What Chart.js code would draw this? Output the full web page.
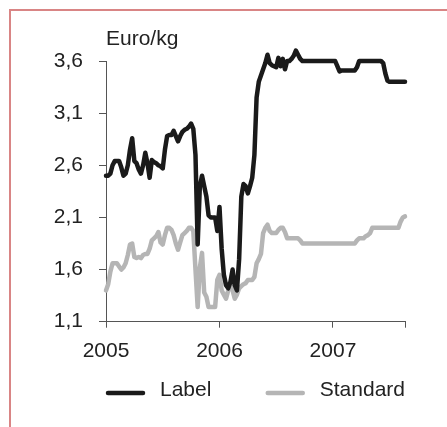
<!DOCTYPE html>
<html>
<head>
<meta charset="utf-8">
<script src="https://cdn.jsdelivr.net/npm/chart.js@4"></script>
<style>
  html, body { margin: 0; padding: 0; background: #fff; }
  #wrap { position: relative; width: 447px; height: 427px; }
  #frame { position: absolute; left: 9px; top: 9px; right: 0; bottom: 0;
           border-top: 2px solid #d98585; border-left: 2px solid #d98585; }
  canvas { position: absolute; left: 0; top: 0; }
</style>
</head>
<body>
<div id="wrap">
  <div id="frame"></div>
  <canvas id="price-chart" width="447" height="427"></canvas>
</div>
<script>
/* Chart data: weekly prices, week 0 = first week of 2005 */
let seriesNames = ['Label', 'Standard']
let unitLabel = 'Euro/kg'

let labelPrices = [
  2.50, 2.50, 2.52, 2.60, 2.64, 2.64, 2.64, 2.58, 2.50, 2.52,
  2.60, 2.75, 2.86, 2.64, 2.62, 2.56, 2.52, 2.60, 2.72, 2.62,
  2.48, 2.65, 2.63, 2.62, 2.60, 2.59, 2.57, 2.75, 2.88, 2.89,
  2.89, 2.93, 2.88, 2.83, 2.88, 2.92, 2.94, 2.95, 2.97, 3.00,
  2.95, 2.70, 1.84, 2.40, 2.50, 2.40, 2.30, 2.12, 2.10, 2.10,
  2.10, 1.97, 2.20, 1.80, 1.55, 1.45, 1.42, 1.48, 1.60, 1.45,
  1.40, 1.70, 2.30, 2.42, 2.40, 2.33, 2.40, 2.48, 2.70, 3.25,
  3.40, 3.46, 3.52, 3.58, 3.66, 3.58, 3.56, 3.55, 3.54, 3.63,
  3.55, 3.62, 3.52, 3.60, 3.60, 3.62, 3.65, 3.70, 3.66, 3.62,
  3.60, 3.60, 3.60, 3.60, 3.60, 3.60, 3.60, 3.60, 3.60, 3.60,
  3.60, 3.60, 3.60, 3.60, 3.60, 3.60, 3.55, 3.50, 3.51, 3.51,
  3.51, 3.51, 3.51, 3.51, 3.51, 3.54, 3.60, 3.60, 3.60, 3.60,
  3.60, 3.60, 3.60, 3.60, 3.60, 3.60, 3.60, 3.58, 3.48, 3.41,
  3.40, 3.40, 3.40, 3.40, 3.40, 3.40, 3.40, 3.40
]

let standardPrices = [
  1.40, 1.46, 1.58, 1.66, 1.66, 1.66, 1.63, 1.60, 1.62, 1.66,
  1.74, 1.84, 1.85, 1.72, 1.71, 1.72, 1.71, 1.74, 1.75, 1.75,
  1.80, 1.88, 1.90, 1.92, 1.96, 1.86, 1.84, 1.93, 2.00, 2.00,
  1.98, 1.93, 1.85, 1.79, 1.86, 1.93, 1.95, 1.97, 2.00, 2.00,
  1.97, 1.60, 1.24, 1.62, 1.76, 1.38, 1.34, 1.24, 1.24, 1.24,
  1.24, 1.50, 1.55, 1.40, 1.36, 1.32, 1.40, 1.47, 1.40, 1.32,
  1.36, 1.42, 1.44, 1.46, 1.47, 1.50, 1.50, 1.50, 1.53, 1.66,
  1.70, 1.75, 1.95, 2.00, 2.03, 1.97, 1.95, 1.95, 1.95, 1.98,
  2.00, 2.00, 1.96, 1.90, 1.90, 1.90, 1.90, 1.90, 1.90, 1.88,
  1.85, 1.85, 1.85, 1.85, 1.85, 1.85, 1.85, 1.85, 1.85, 1.85,
  1.85, 1.85, 1.85, 1.85, 1.85, 1.85, 1.85, 1.85, 1.85, 1.85,
  1.85, 1.85, 1.85, 1.85, 1.85, 1.88, 1.90, 1.90, 1.90, 1.92,
  1.93, 1.95, 2.00, 2.00, 2.00, 2.00, 2.00, 2.00, 2.00, 2.00,
  2.00, 2.00, 2.00, 2.00, 2.00, 2.06, 2.10, 2.11
]

// x axis ticks (in weeks) and their year labels, the last tick closes the axis
let xTickWeeks = [0, 52, 104, 137]
let yearLabels = ['2005', '2006', '2007', '']

// y axis ticks
let yTicks = [1.1, 1.6, 2.1, 2.6, 3.1, 3.6]

let seriesColors = ['#1a1a1a', '#b5b5b5']
let textColor = '#222'
let axisColor = '#555'
let fontFamily = '"Liberation Sans", Arial, sans-serif'
let fontSize = 21

function toPoints(values) {
    return values.map(function (v, i) { return { x: i, y: v } })
}

// draws the unit label above the y axis and the legend below the chart
let extraText = {
    id: 'extraText',
    afterDraw(chart) {
        let ctx = chart.ctx
        let area = chart.chartArea
        ctx.save()
        ctx.font = fontSize + 'px ' + fontFamily
        ctx.fillStyle = textColor
        ctx.textBaseline = 'alphabetic'
        ctx.fillText(unitLabel, area.left, 45)

        let lineY = 393
        let textY = 396
        chart.data.datasets.forEach(function (ds, i) {
            let textWidth = ctx.measureText(ds.label).width
            let start = i === 0 ? area.left : area.right - textWidth - 54
            ctx.strokeStyle = ds.borderColor
            ctx.lineWidth = 4.5
            ctx.lineCap = 'round'
            ctx.beginPath()
            ctx.moveTo(start + 2, lineY)
            ctx.lineTo(start + 37, lineY)
            ctx.stroke()
            ctx.fillStyle = textColor
            ctx.fillText(ds.label, start + 54, textY)
        })
        ctx.restore()
    }
}

let ctx = document.querySelector('#price-chart').getContext('2d')

let priceChart = new Chart(ctx, {
    type: 'line',
    data: {
        datasets: [
            {
                label: seriesNames[0],
                data: toPoints(labelPrices),
                borderColor: seriesColors[0],
                borderWidth: 4.5,
                pointRadius: 0,
                tension: 0,
                borderJoinStyle: 'round',
                borderCapStyle: 'round',
                clip: false
            },
            {
                label: seriesNames[1],
                data: toPoints(standardPrices),
                borderColor: seriesColors[1],
                borderWidth: 4.5,
                pointRadius: 0,
                tension: 0,
                borderJoinStyle: 'round',
                borderCapStyle: 'round',
                clip: false
            }
        ]
    },
    options: {
        responsive: false,
        animation: false,
        events: [],
        layout: { padding: { left: 0, right: 42, top: 61, bottom: 65.3 } },
        plugins: {
            legend: { display: false },
            tooltip: { enabled: false }
        },
        scales: {
            x: {
                type: 'linear',
                min: 0,
                max: 137,
                afterBuildTicks: function (scale) {
                    scale.ticks = xTickWeeks.map(function (w) { return { value: w } })
                },
                afterFit: function (scale) { scale.height = 40 },
                grid: { drawOnChartArea: false, drawTicks: true, tickLength: 6, color: axisColor },
                border: { color: axisColor, width: 1 },
                ticks: {
                    autoSkip: false,
                    maxRotation: 0,
                    padding: 11,
                    color: textColor,
                    font: { family: fontFamily, size: fontSize },
                    callback: function (value, index) { return yearLabels[index] }
                }
            },
            y: {
                min: 1.1,
                max: 3.6,
                afterBuildTicks: function (scale) {
                    scale.ticks = yTicks.map(function (v) { return { value: v } })
                },
                afterFit: function (scale) { scale.width = 106 },
                grid: { drawOnChartArea: false, drawTicks: true, tickLength: 7, color: axisColor },
                border: { color: axisColor, width: 1 },
                ticks: {
                    padding: 16,
                    color: textColor,
                    font: { family: fontFamily, size: fontSize },
                    callback: function (value) { return value.toFixed(1).replace('.', ',') }
                }
            }
        }
    },
    plugins: [extraText]
})
</script>
</body>
</html>
